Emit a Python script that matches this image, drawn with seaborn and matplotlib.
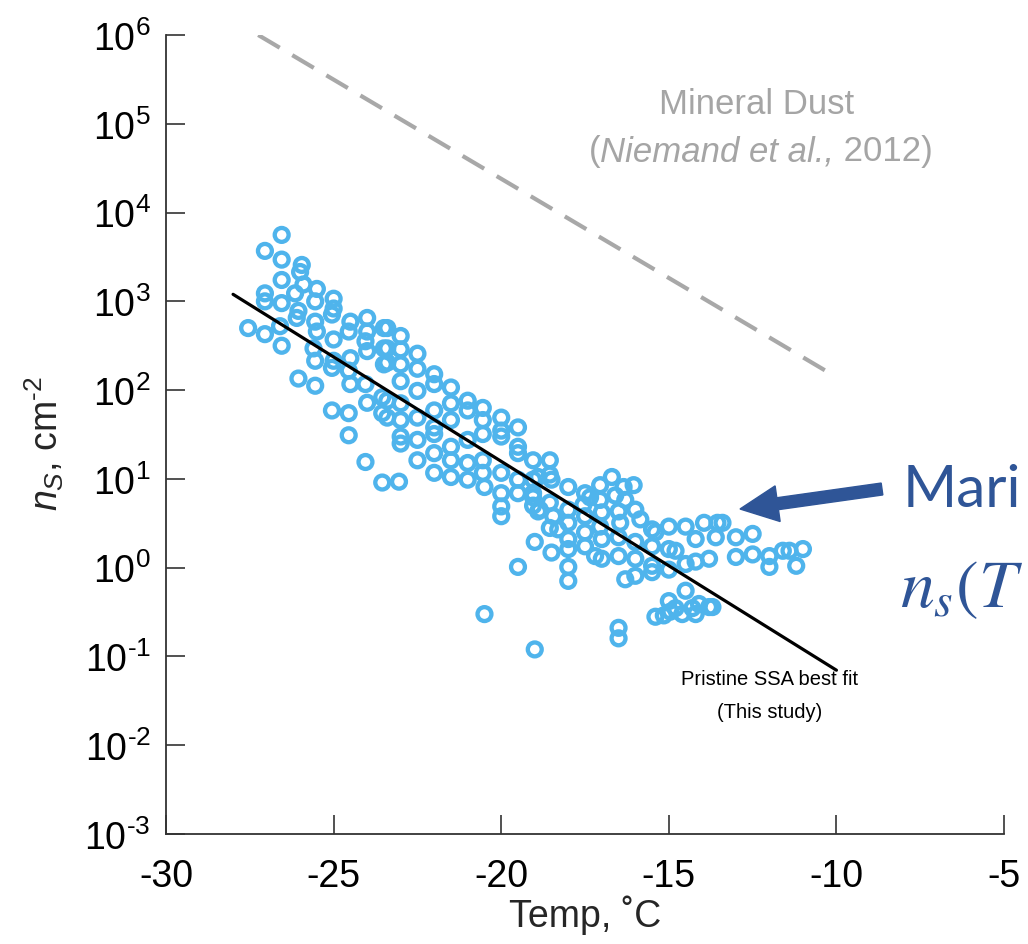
import matplotlib
matplotlib.use("Agg")
import matplotlib.pyplot as plt
import seaborn as sns
import pandas as pd
from matplotlib.patches import FancyArrow
from matplotlib.transforms import IdentityTransform
from matplotlib.offsetbox import TextArea, HPacker, AnnotationBbox

# ---- data ----
temp_c = [
    -26.55, -27.05, -26.55, -25.95, -26.0, -26.55, -27.05, -27.05, -26.55, -26.15,
    -25.9, -25.5, -25.55, -25.0, -25.0, -25.05, -26.05, -26.1, -25.55, -25.5,
    -27.55, -27.05, -26.6, -26.55, -25.6, -25.55, -25.0, -25.0, -25.05, -24.5,
    -24.55, -24.0, -24.0, -24.05, -24.0, -23.5, -23.5, -23.5, -24.5, -24.55,
    -24.5, -26.05, -25.55, -24.05, -24.0, -23.55, -23.55, -25.05, -24.55, -24.55,
    -24.05, -23.55, -23.05,
    -23.4, -23.0, -23.0, -22.5, -23.4, -23.4, -23.0, -22.5, -22.0, -22.0,
    -21.5, -23.0, -22.5, -23.4, -23.0, -23.4, -23.0, -22.5, -22.0, -21.5,
    -21.0, -21.0, -20.55, -20.0, -19.5, -20.0, -20.55, -21.5, -22.0, -22.0,
    -23.0, -23.0, -22.5, -22.5, -22.0, -21.5, -21.0, -20.55, -20.0, -19.5,
    -19.5, -19.05, -22.0, -21.5, -21.5, -21.0, -21.0, -20.55, -20.55, -20.5,
    -20.0, -20.0, -20.0, -20.0, -19.5, -19.5, -19.05, -19.05, -18.85,
    -18.55, -18.9, -18.5, -18.0, -17.5, -17.05, -16.7, -16.35, -16.05, -17.35,
    -18.9, -18.45, -18.0, -18.0, -17.5, -17.0, -16.5, -16.0, -15.5, -15.0,
    -14.5, -18.3, -18.0, -17.5, -17.5, -17.0, -16.5, -16.0, -15.5, -15.0,
    -19.0, -18.5, -18.0, -17.2, -17.0, -16.5, -16.0, -15.5, -15.0, -16.3,
    -16.0, -15.5, -18.0, -18.0, -19.0, -16.5, -16.5, -15.4, -15.0, -14.5,
    -14.8, -14.3, -19.5, -20.5,
    -13.95, -13.55, -13.4, -14.2, -13.6, -13.0, -12.5, -13.0, -12.5, -12.0,
    -11.6, -11.4, -11.0, -12.0, -11.2, -14.8, -14.5, -14.2, -13.8, -14.1,
    -13.8, -14.6, -14.2, -15.15, -13.7, -14.95,
    -18.55, -19.05, -19.05, -18.55, -18.55, -17.55, -17.05, -16.6, -16.3, -15.85,
    -15.4, -16.45, -17.05,
]
ns_cm2 = [
    5600, 3700, 2950, 2570, 2140, 1740, 1230, 1000, 955, 1230,
    1550, 1380, 1000, 1070, 830, 710, 780, 650, 590, 457,
    500, 427, 525, 316, 295, 214, 372, 214, 178, 590,
    457, 650, 457, 355, 275, 500, 295, 195, 229, 166,
    117, 135, 112, 117, 72, 83, 55, 59, 55, 31,
    15.5, 9.1, 9.3,
    500, 407, 288, 257, 295, 204, 195, 174, 151, 117,
    107, 126, 98, 76, 71, 49, 46, 49, 59, 71,
    76, 59, 63, 49, 38, 35, 46, 46, 38, 32,
    30, 25, 27.5, 16.2, 19.5, 23, 27.5, 32, 30, 23,
    19.5, 16.2, 11.7, 16.2, 10.5, 15.1, 9.8, 16.2, 11.7, 8.1,
    11.7, 6.9, 4.9, 3.8, 9.8, 6.9, 9.8, 6.9, 4.5,
    16.2, 10.5, 9.8, 8.1, 6.9, 8.5, 10.5, 8.1, 8.5, 6.2,
    4.3, 3.8, 4.5, 3.2, 3.8, 4.2, 4.3, 4.5, 2.7, 2.9,
    2.9, 2.7, 2.1, 2.5, 1.74, 2.1, 2.2, 1.95, 1.74, 1.62,
    1.95, 1.48, 1.62, 1.35, 1.26, 1.35, 1.26, 1.05, 0.95, 0.74,
    0.81, 0.89, 1.02, 0.71, 0.12, 0.21, 0.16, 0.28, 0.42, 0.55,
    0.35, 0.35, 1.02, 0.30,
    3.2, 3.2, 3.2, 2.1, 2.2, 2.2, 2.4, 1.32, 1.41, 1.35,
    1.55, 1.55, 1.62, 1.02, 1.05, 1.55, 1.10, 1.17, 1.26, 0.39,
    0.36, 0.30, 0.30, 0.29, 0.36, 0.32,
    11.2, 6.2, 5.0, 5.4, 2.8, 5.1, 5.8, 6.5, 5.8, 3.5,
    2.5, 3.2, 2.9,
]

fit_temp = [-28.0, -10.0]
fit_ns = [1200.0, 0.07]
dust_temp = [-27.25, -10.0]
dust_ns = [1.0e6, 140.0]

x_ticks = [-30, -25, -20, -15, -10, -5]
y_ticks = [1e-3, 1e-2, 1e-1, 1e0, 1e1, 1e2, 1e3, 1e4, 1e5, 1e6]
y_tick_labels = ["10$^{\u20103}$", "10$^{\u20102}$", "10$^{\u20101}$", "10$^{0}$",
                 "10$^{1}$", "10$^{2}$", "10$^{3}$", "10$^{4}$", "10$^{5}$",
                 "10$^{6}$"]

# ---- style ----
sns.set_style("ticks")
plt.rcParams["font.family"] = ["Liberation Sans", "DejaVu Sans"]
plt.rcParams["mathtext.fontset"] = "custom"
plt.rcParams["mathtext.rm"] = "Liberation Sans"
plt.rcParams["mathtext.it"] = "Liberation Sans:italic"
plt.rcParams["mathtext.bf"] = "Liberation Sans:bold"
plt.rcParams["axes.unicode_minus"] = False

fig = plt.figure(figsize=(10.28, 9.45), dpi=100)
ax = fig.add_axes([0.1615, 0.1164, 0.8152, 0.8455])

df = pd.DataFrame({"temp": temp_c, "ns": ns_cm2})
sns.scatterplot(data=df, x="temp", y="ns", ax=ax, marker="o", s=100,
                facecolor="none", edgecolor="#4FB4EC", linewidth=3.1,
                zorder=2, legend=False)

ax.plot(dust_temp, dust_ns, color="#A8A8A8", lw=3, dashes=(6, 3.5), zorder=1)
ax.plot(fit_temp, fit_ns, color="black", lw=2.3, zorder=3)

ax.set_yscale("log")
ax.set_xlim(-30, -5)
ax.set_ylim(1e-3, 1e6)
ax.set_xticks(x_ticks)
ax.set_yticks(y_ticks)
ax.set_yticklabels(y_tick_labels)
ax.yaxis.set_minor_locator(matplotlib.ticker.NullLocator())
ax.xaxis.set_minor_locator(matplotlib.ticker.NullLocator())

for s in ["top", "right"]:
    ax.spines[s].set_visible(False)
for s in ["left", "bottom"]:
    ax.spines[s].set_color("#333333")
    ax.spines[s].set_linewidth(1.3)

ax.tick_params(axis="both", direction="in", length=14, width=1.2,
               color="#333333", labelsize=27, labelcolor="black")
ax.tick_params(axis="y", pad=11)
ax.tick_params(axis="x", pad=17)

ax.set_xlabel("Temp, ˚C", fontsize=27, va="center")
ax.xaxis.set_label_coords(0.5, -0.1)
ax.set_ylabel("$\\mathit{n}_{\\mathit{S}}$, cm$^{\u20102}$", fontsize=27, va="center")
ax.yaxis.set_label_coords(-0.145, 0.49)

# annotations
gray = "#A5A5A5"
fig.text(757 / 1028, 1 - 105 / 945, "Mineral Dust", fontsize=25, color=gray,
         ha="center", va="center")
cite = HPacker(children=[
    TextArea("(", textprops=dict(fontsize=25, color=gray)),
    TextArea("Niemand et al.,", textprops=dict(fontsize=25, color=gray, style="italic")),
    TextArea("\u00a02012)", textprops=dict(fontsize=25, color=gray)),
], sep=0, pad=0, align="baseline")
fig.add_artist(AnnotationBbox(cite, (761 / 1028, 1 - 152 / 945),
                              xycoords="figure fraction", frameon=False,
                              box_alignment=(0.5, 0.5), pad=0))

fig.text(770 / 1028, 1 - 680 / 945, "Pristine SSA best fit", fontsize=14.5,
         color="black", ha="center", va="center")
fig.text(770 / 1028, 1 - 713 / 945, "(This study)", fontsize=14.5,
         color="black", ha="center", va="center")

blue = "#2F5597"
fig.text(903 / 1028, 1 - 507 / 945, "Mari", fontsize=42, color=blue,
         family=["Lato", "DejaVu Sans"], ha="left", va="baseline")
fig.text(900 / 1028, 1 - 607 / 945, r"$n_s(T$", fontsize=49, color=blue,
         math_fontfamily="stix", ha="left", va="baseline")
arrow = FancyArrow(882, 945 - 490, -142, -20, width=12, head_width=36,
                   head_length=38, length_includes_head=True,
                   color=blue, transform=IdentityTransform())
fig.add_artist(arrow)

fig.savefig("out.png", dpi=100)
